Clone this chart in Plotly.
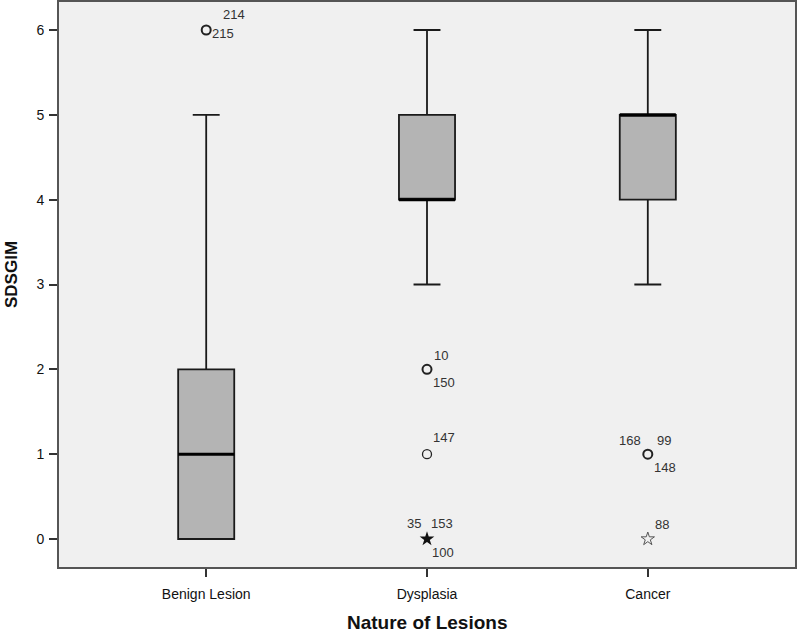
import plotly.graph_objects as go

categories = ["Benign Lesion", "Dysplasia", "Cancer"]
q1 = [0, 4, 4]
median = [1, 4, 5]
q3 = [2, 5, 5]
lower_whisker = [0, 3, 3]
upper_whisker = [5, 6, 6]

# outliers: category index, value, kind
out_cat = [0, 1, 1, 1, 2, 2]
out_val = [6, 2, 1, 0, 1, 0]
out_kind = ["circle", "circle", "circle", "star", "circle", "star"]
out_weight = [2, 2, 1.3, 2, 2, 1]

# case labels
lab_cat = [0, 0, 1, 1, 1, 1, 1, 1, 2, 2, 2, 2]
lab_val = [6, 6, 2, 2, 1, 0, 0, 0, 1, 1, 1, 0]
lab_text = ["214", "215", "10", "150", "147", "35", "153", "100", "168", "99", "148", "88"]
lab_dx = [15, 4, 5, 4, 4, -4, 2, 3, -5, 7, 4, 5]
lab_dy = [16, -3, 14, -13, 17, 16, 16, -13, 14, 14, -13, 15]
lab_anchor = ["left", "left", "left", "left", "left", "right", "left", "left", "right", "left", "left", "left"]

box_w = 0.254
xpos = list(range(len(categories)))

W, H = 797, 635
ML, MR, MT, MB = 59, 2, 2, 68
plot_h = H - MT - MB

fig = go.Figure()
fig.add_trace(go.Box(
    x=xpos, q1=q1, median=median, q3=q3,
    lowerfence=lower_whisker, upperfence=upper_whisker,
    width=box_w, whiskerwidth=0.48,
    fillcolor="#b4b4b4", line=dict(color="#1a1a1a", width=1.8),
    boxpoints=False, showlegend=False, hoverinfo="skip",
))

# thick median lines
for i, m in zip(xpos, median):
    fig.add_trace(go.Scatter(
        x=[i - box_w / 2, i + box_w / 2], y=[m, m], mode="lines",
        line=dict(color="#000000", width=3), showlegend=False, hoverinfo="skip",
    ))

for c, v, k, w in zip(out_cat, out_val, out_kind, out_weight):
    if k == "circle":
        marker = dict(symbol="circle-open", size=9, color="#222222", line=dict(width=w))
    else:
        if w > 1.5:
            marker = dict(symbol="star", size=11, color="#111111", line=dict(width=0))
        else:
            marker = dict(symbol="star-open", size=10, color="#555555", line=dict(width=1))
    fig.add_trace(go.Scatter(x=[c], y=[v], mode="markers", marker=marker,
                             showlegend=False, hoverinfo="skip"))

for c, v, t, dx, dy, a in zip(lab_cat, lab_val, lab_text, lab_dx, lab_dy, lab_anchor):
    fig.add_annotation(x=c, y=v, text=t, showarrow=False, xanchor=a, yanchor="middle",
                       xshift=dx, yshift=dy,
                       font=dict(family="Liberation Sans, Arial", size=13, color="#333333"))

# axis titles
fig.add_annotation(x=0.5, xref="paper", y=(H - MB - 623) / plot_h, yref="paper",
                   text="<b>Nature of Lesions</b>", showarrow=False,
                   xanchor="center", yanchor="middle",
                   font=dict(family="Liberation Sans, Arial", size=19, color="#111111"))
fig.add_annotation(x=0, xref="paper", xshift=-48, y=(H - MB - 275) / plot_h, yref="paper",
                   text="<b>SDSGIM</b>", showarrow=False, textangle=-90,
                   xanchor="center", yanchor="middle",
                   font=dict(family="Liberation Sans, Arial", size=17, color="#111111"))

fig.update_layout(
    width=W, height=H,
    margin=dict(l=ML, r=MR, t=MT, b=MB),
    paper_bgcolor="white", plot_bgcolor="#f0f0f0",
    font=dict(family="Liberation Sans, Arial", size=13, color="#111111"),
)

fig.update_xaxes(
    range=[-2 / 3, 8 / 3], tickmode="array", tickvals=xpos, ticktext=categories,
    showgrid=False, zeroline=False, showline=True, linecolor="#555555", linewidth=2,
    mirror=True, ticks="outside", ticklen=8, tickcolor="#333333", tickwidth=2,
    tickfont=dict(size=14, color="#111111"), automargin=False, ticklabelstandoff=5,
)
fig.update_yaxes(
    range=[-0.33, 6.33], tickmode="array", tickvals=[0, 1, 2, 3, 4, 5, 6],
    showgrid=False, zeroline=False, showline=True, linecolor="#555555", linewidth=2,
    mirror=True, ticks="outside", ticklen=8, tickcolor="#333333", tickwidth=2,
    tickfont=dict(size=14, color="#111111"), automargin=False, ticklabelstandoff=2,
)

fig.write_html("out.html", config={"displayModeBar": False},
               post_script="document.body.style.margin='0';document.body.style.overflow='hidden';")
